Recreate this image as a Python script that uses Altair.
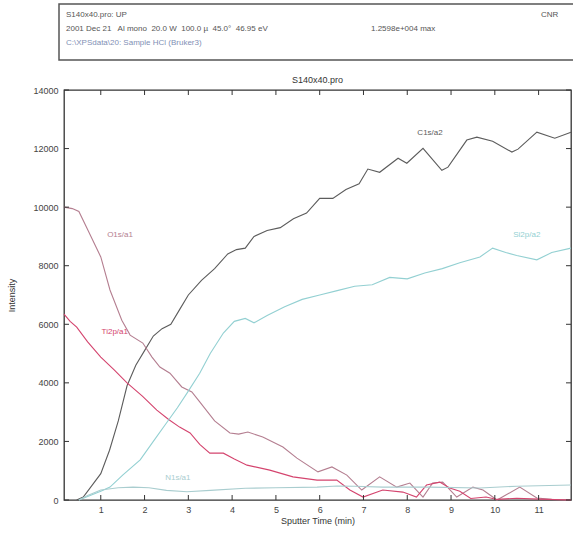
import altair as alt
import pandas as pd

# Depth profile: sputter time (min) vs intensity for each region
c1s_t = [0.45, 0.6, 0.8, 1.0, 1.2, 1.4, 1.6, 1.8, 2.0, 2.2, 2.4, 2.6, 2.8, 3.0, 3.3, 3.6, 3.9, 4.1, 4.3, 4.5,
         4.8, 5.1, 5.4, 5.7, 6.0, 6.3, 6.6, 6.9, 7.1, 7.37, 7.79, 7.99, 8.36, 8.79, 8.93, 9.36, 9.59, 9.95,
         10.39, 10.53, 10.96, 11.37, 11.74]
c1s_i = [0, 100, 500, 900, 1700, 2700, 3900, 4600, 5100, 5600, 5850, 6000, 6500, 7000, 7500, 7900, 8400, 8550,
         8600, 9000, 9200, 9300, 9600, 9800, 10300, 10300, 10600, 10800, 11300, 11190, 11670, 11500, 12010,
         11260, 11365, 12290, 12390, 12250, 11880, 11980, 12560, 12355, 12560]

o1s_t = [0.16, 0.35, 0.5, 0.71, 1.0, 1.21, 1.48, 1.67, 1.96, 2.17, 2.35, 2.58, 2.85, 3.08, 3.26, 3.6, 3.95,
         4.15, 4.36, 4.7, 5.16, 5.48, 5.96, 6.28, 6.62, 6.96, 7.37, 7.76, 8.06, 8.36, 8.58, 8.81, 9.13, 9.5,
         9.73, 10.05, 10.57, 10.96, 11.3, 11.74]
o1s_i = [10000, 9950, 9850, 9200, 8300, 7170, 6140, 5630, 5360, 4880, 4540, 4330, 3860, 3690, 3350, 2700,
         2290, 2250, 2320, 2150, 1810, 1430, 960, 1130, 850, 340, 790, 440, 580, 100, 580, 610, 100, 440,
         340, 0, 440, 70, 20, 0]

ti2p_t = [0.16, 0.3, 0.45, 0.7, 1.0, 1.3, 1.6, 1.95, 2.28, 2.55, 2.8, 3.04, 3.26, 3.49, 3.8, 4.05, 4.34, 4.86,
          5.39, 5.94, 6.39, 6.69, 6.99, 7.44, 7.9, 8.21, 8.44, 8.74, 8.97, 9.2, 9.45, 9.8, 10.05, 10.5, 11.0,
          11.74]
ti2p_i = [6350, 6100, 5900, 5400, 4880, 4450, 4000, 3550, 3070, 2750, 2490, 2290, 1900, 1600, 1600, 1400, 1190,
          1020, 790, 680, 680, 340, 100, 340, 270, 100, 510, 610, 410, 300, 50, 100, 20, 60, 30, 0]

si2p_t = [0.5, 0.7, 1.0, 1.21, 1.5, 1.9, 2.2, 2.5, 2.75, 2.97, 3.26, 3.5, 3.8, 4.05, 4.3, 4.5, 4.8, 5.2, 5.6,
          6.0, 6.4, 6.8, 7.2, 7.6, 8.0, 8.4, 8.8, 9.2, 9.66, 9.95, 10.25, 10.5, 10.96, 11.3, 11.74]
si2p_i = [0, 120, 300, 440, 850, 1370, 2000, 2630, 3150, 3650, 4330, 5000, 5700, 6100, 6200, 6050, 6300, 6600,
          6850, 7000, 7150, 7300, 7350, 7600, 7550, 7750, 7900, 8100, 8300, 8600, 8450, 8350, 8200, 8450, 8600]

n1s_t = [0.5, 0.7, 1.0, 1.4, 1.74, 2.1, 2.5, 2.97, 3.5, 4.3, 5.0, 5.94, 6.4, 6.8, 7.44, 8.5, 9.66, 10.5, 11.74]
n1s_i = [0, 150, 340, 420, 440, 420, 330, 280, 330, 400, 420, 440, 480, 470, 440, 440, 410, 470, 510]

series_names = ["C1s/a2", "O1s/a1", "Ti2p/a1", "Si2p/a2", "N1s/a1"]
series_colors = ["#5c5c5c", "#b47e90", "#d4446e", "#93d0d2", "#a9cdcf"]

# Curve labels (text, time, intensity)
label_text = ["C1s/a2", "O1s/a1", "Ti2p/a1", "Si2p/a2", "N1s/a1"]
label_t = [8.52, 1.44, 1.32, 10.73, 2.76]
label_i = [12520, 9040, 5730, 9040, 750]

x_ticks = [1, 2, 3, 4, 5, 6, 7, 8, 9, 10, 11]
y_ticks = [0, 2000, 4000, 6000, 8000, 10000, 12000, 14000]

X_DOMAIN = [0.16, 11.74]
Y_DOMAIN = [0, 14000]
W, H = 507, 410

rows = []
for name, ts, vs in [("C1s/a2", c1s_t, c1s_i), ("O1s/a1", o1s_t, o1s_i), ("Ti2p/a1", ti2p_t, ti2p_i),
                     ("Si2p/a2", si2p_t, si2p_i), ("N1s/a1", n1s_t, n1s_i)]:
    for i, (t, v) in enumerate(zip(ts, vs)):
        rows.append({"series": name, "t": t, "intensity": v, "order": i})
df = pd.DataFrame(rows)

xs = alt.Scale(domain=X_DOMAIN, nice=False, zero=False)
ys = alt.Scale(domain=Y_DOMAIN, nice=False)
color = alt.Color("series:N", scale=alt.Scale(domain=series_names, range=series_colors), legend=None)

axis_style = dict(labelFont="Liberation Sans", labelFontSize=9, labelColor="#444", titleFont="Liberation Sans",
                  titleFontSize=9, titleColor="#333", titleFontWeight="normal", ticks=False, domain=False,
                  grid=False)

lines = alt.Chart(df).mark_line(strokeWidth=1.1).encode(
    x=alt.X("t:Q", scale=xs, axis=alt.Axis(values=x_ticks, title="Sputter Time (min)", labelPadding=5,
                                             titlePadding=2, format="d", **axis_style)),
    y=alt.Y("intensity:Q", scale=ys, axis=alt.Axis(values=y_ticks, title="Intensity", labelPadding=6,
                                                     titlePadding=16, format="d", **axis_style)),
    color=color,
    order="order:Q",
)

labels_df = pd.DataFrame({"series": label_text, "t": label_t, "intensity": label_i})
labels = alt.Chart(labels_df).mark_text(font="Liberation Sans", fontSize=8).encode(
    x=alt.X("t:Q", scale=xs), y=alt.Y("intensity:Q", scale=ys), text="series:N", color=color,
)

# Inward tick marks on all four sides
xt = pd.DataFrame({"t": x_ticks})
yt = pd.DataFrame({"intensity": y_ticks})
tick_color = "#333"
bottom_ticks = alt.Chart(xt).mark_rule(color=tick_color).encode(
    x=alt.X("t:Q", scale=xs), y=alt.value(H), y2=alt.value(H - 5))
top_ticks = alt.Chart(xt).mark_rule(color=tick_color).encode(
    x=alt.X("t:Q", scale=xs), y=alt.value(0), y2=alt.value(5))
left_ticks = alt.Chart(yt).mark_rule(color=tick_color).encode(
    y=alt.Y("intensity:Q", scale=ys), x=alt.value(0), x2=alt.value(5))
right_ticks = alt.Chart(yt).mark_rule(color=tick_color).encode(
    y=alt.Y("intensity:Q", scale=ys), x=alt.value(W), x2=alt.value(W - 5))

# Header box with acquisition info
one = pd.DataFrame({"k": [0]})
box = alt.Chart(one).mark_rect(fill="white", stroke="#555", strokeWidth=1.5).encode(
    x=alt.value(-5), x2=alt.value(520), y=alt.value(-86), y2=alt.value(-30))

def header(text, x, y, col="#555", size=8):
    return alt.Chart(one).mark_text(text=text, align="left", baseline="middle", font="Liberation Sans",
                                    fontSize=size, color=col).encode(x=alt.value(x), y=alt.value(y))

NB = "\u00a0"
head1 = header("S140x40.pro: UP", 2, -75)
head2 = header(f"2001 Dec 21{NB}{NB} Al mono{NB} 20.0 W{NB} 100.0 \u00b5{NB} 45.0\u00b0{NB} 46.95 eV", 2, -61)
head3 = header("1.2598e+004 max", 307, -61)
head4 = header("C:\\XPSdata\\20: Sample HCl (Bruker3)", 2, -47, col="#7f8fb5")
head5 = header("CNR", 477, -75)

title = alt.Chart(one).mark_text(text="S140x40.pro", align="center", baseline="middle", font="Liberation Sans",
                                 fontSize=9, color="#333").encode(x=alt.value(W / 2), y=alt.value(-10))

chart = alt.layer(
    box, head1, head2, head3, head4, head5, title,
    lines, labels, bottom_ticks, top_ticks, left_ticks, right_ticks,
).properties(
    width=W, height=H,
    autosize=alt.AutoSizeParams(type="none"),
    padding={"left": 64, "top": 90, "right": 2, "bottom": 36},
    background="white",
).configure_view(stroke="#333", strokeWidth=1.3)

chart.save("out.html", embed_options={"renderer": "svg", "actions": False})
